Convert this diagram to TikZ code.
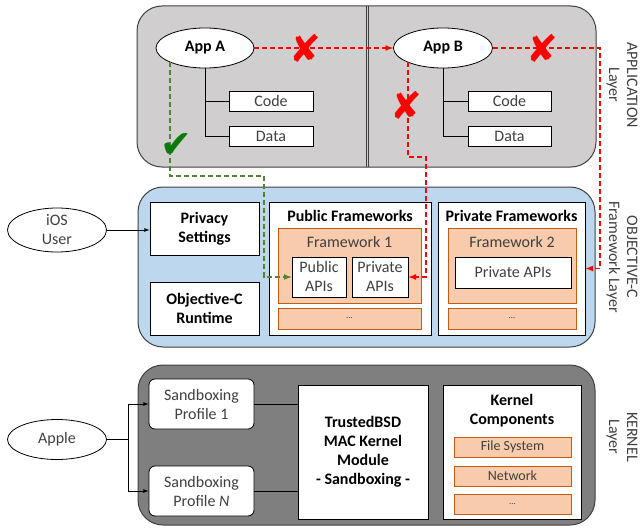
\documentclass[tikz,border=0pt]{standalone}
\usepackage{fontspec}
\setmainfont{Carlito}
\newfontfamily\symfont{DejaVu Sans}
\usepackage{tikz, xcolor}
\usetikzlibrary{shapes,arrows}

\definecolor{appfill}{HTML}{D0CECE}
\definecolor{objcfill}{HTML}{BDD7EE}
\definecolor{kernfill}{HTML}{7F7F7F}
\definecolor{orfill}{HTML}{F8CBAD}
\definecolor{ordraw}{HTML}{C55A11}
\definecolor{txtgray}{HTML}{404040}
\definecolor{dashgreen}{HTML}{548235}
\definecolor{checkgreen}{HTML}{0A7A0A}

\begin{document}
\begin{tikzpicture}[x=1pt, y=-1pt, >=latex, font=\fontsize{16}{19}\selectfont]
\tikzstyle{layer}=[rectangle, rounded corners=25pt, draw=black!75, line width=1pt, inner sep=0pt]
\tikzstyle{vertexr}=[rectangle, draw=black, fill=white, line width=0.8pt, inner sep=0pt, align=center, text=txtgray]
\tikzstyle{vertexb}=[vertexr, text=black, font=\fontsize{16}{19}\selectfont\bfseries]
\tikzstyle{vertexo}=[rectangle, draw=ordraw, fill=orfill, line width=0.8pt, inner sep=0pt, text=txtgray]
\tikzstyle{vertexe}=[ellipse, draw=black, fill=white, line width=0.8pt, inner sep=0pt, align=center, text=txtgray]
\tikzstyle{title}=[inner sep=0pt, align=center, font=\fontsize{16}{19}\selectfont\bfseries]
\tikzstyle{side}=[inner sep=0pt, align=center, rotate=-90, text=txtgray, font=\fontsize{16}{18}\selectfont]
\tikzstyle{drawstyle}=[line width=0.8pt]
\tikzstyle{reddash}=[red, line width=1.6pt, dash pattern=on 5pt off 3pt, ->]
\tikzstyle{greenpath}=[dashgreen, line width=1.6pt, dash pattern=on 5pt off 3pt, ->]
\tikzstyle{nomark}=[inner sep=0pt, text=red, font=\fontsize{38}{38}\selectfont\symfont]

\useasboundingbox (0,0) rectangle (642,527);

% application layer
\node[layer, fill=appfill, minimum width=459pt, minimum height=161pt] (appLayer) at (366.5,86.5) {};
\draw[drawstyle, black!75] (366,6) -- (366,167);
\draw[drawstyle, black!75] (368.5,6) -- (368.5,167);
\node[vertexe, text=black, font=\fontsize{16}{19}\selectfont\bfseries, minimum width=98pt, minimum height=40pt] (appA) at (205,48) {App A};
\node[vertexe, text=black, font=\fontsize{16}{19}\selectfont\bfseries, minimum width=99pt, minimum height=40pt] (appB) at (443,48) {App B};
\node[vertexr, minimum width=84pt, minimum height=20pt] (codeA) at (271,101) {Code};
\node[vertexr, minimum width=84pt, minimum height=20pt] (dataA) at (271,136) {Data};
\node[vertexr, minimum width=83pt, minimum height=20pt] (codeB) at (509.5,101) {Code};
\node[vertexr, minimum width=83pt, minimum height=20pt] (dataB) at (509.5,136) {Data};
\draw[drawstyle] (appA.south) |- (dataA.west);
\draw[drawstyle] (appA.south |- codeA.west) -- (codeA.west);
\draw[drawstyle] (appB.south) |- (dataB.west);
\draw[drawstyle] (appB.south |- codeB.west) -- (codeB.west);
\node[side] (appSide) at (622,85) {APPLICATION\\Layer};

% objective-c framework layer
\node[layer, fill=objcfill, minimum width=457pt, minimum height=160pt] (objcLayer) at (366.5,267) {};
\node[vertexe, minimum width=99pt, minimum height=44pt] (iosUser) at (57,230) {iOS\\User};
\node[vertexb, minimum width=109pt, minimum height=53pt] (privacy) at (204.5,228.5) {Privacy\\Settings};
\node[vertexb, minimum width=109pt, minimum height=53pt] (runtime) at (204.5,308.5) {Objective-C\\Runtime};
\draw[drawstyle, ->] (iosUser.east) -- (privacy.west |- iosUser.east);
\node[vertexr, minimum width=162pt, minimum height=133pt] (pubFw) at (350,268.5) {};
\node[title] (pubFwTitle) at (350,216) {Public Frameworks};
\node[vertexo, minimum width=143pt, minimum height=75pt] (fw1) at (349.5,265.5) {};
\node[inner sep=0pt, text=txtgray] (fw1Title) at (349.5,242.5) {Framework 1};
\node[vertexr, minimum width=54pt, minimum height=40pt] (pubApi) at (319,277) {Public\\APIs};
\node[vertexr, minimum width=56pt, minimum height=40pt] (privApi) at (380,277) {Private\\APIs};
\node[vertexo, minimum width=143pt, minimum height=21pt] (dots1) at (349.5,318.5) {\small\dots};
\node[vertexr, minimum width=147pt, minimum height=133pt] (privFw) at (511.5,268.5) {};
\node[title] (privFwTitle) at (511.5,216) {Private Frameworks};
\node[vertexo, minimum width=128pt, minimum height=75pt] (fw2) at (512,265.5) {};
\node[inner sep=0pt, text=txtgray] (fw2Title) at (512,242.5) {Framework 2};
\node[vertexr, minimum width=116pt, minimum height=31pt] (privApi2) at (513,272.5) {Private APIs};
\node[vertexo, minimum width=128pt, minimum height=21pt] (dots2) at (512,318.5) {\small\dots};
\node[side] (objcSide) at (622,257) {OBJECTIVE-C\\Framework Layer};

% kernel layer
\node[layer, fill=kernfill, minimum width=457pt, minimum height=160pt] (kernLayer) at (366.5,445) {};
\node[vertexe, minimum width=99pt, minimum height=40pt] (apple) at (57,439.5) {Apple};
\node[vertexr, rounded corners=6pt, minimum width=105pt, minimum height=50pt] (prof1) at (201.5,404) {Sandboxing\\Profile 1};
\node[vertexr, rounded corners=6pt, minimum width=105pt, minimum height=50pt] (profN) at (201.5,491) {Sandboxing\\Profile \emph{N}};
\node[vertexb, minimum width=130pt, minimum height=134pt] (trusted) at (363,452) {TrustedBSD\\MAC Kernel\\Module\\- Sandboxing -};
\node[vertexr, minimum width=138pt, minimum height=134pt] (kernComp) at (512,452) {};
\node[title] (kernCompTitle) at (512,411) {Kernel\\Components};
\node[vertexo, minimum width=117pt, minimum height=20pt] (fileSys) at (512.5,447) {\fontsize{14}{16}\selectfont File System};
\node[vertexo, minimum width=117pt, minimum height=20pt] (network) at (512.5,476) {\fontsize{14}{16}\selectfont Network};
\node[vertexo, minimum width=117pt, minimum height=20pt] (dots3) at (512.5,504) {\small\dots};
\coordinate (appleSplit) at (128,439.5);
\draw[drawstyle] (apple.east) -- (appleSplit);
\draw[drawstyle, ->] (appleSplit) |- (prof1.west);
\draw[drawstyle, ->] (appleSplit) |- (profN.west);
\draw[drawstyle] (prof1.east) -- (trusted.west |- prof1.east);
\draw[drawstyle] (profN.east) -- (trusted.west |- profN.east);
\node[side] (kernSide) at (622,437) {KERNEL\\Layer};

% access paths
\coordinate (greenTurn) at (264,176);
\coordinate (redTurn) at (426,157);
\coordinate (rightTurn) at (600,48);
\draw[greenpath] (appA.south west) |- (greenTurn) |- (pubApi.west);
\draw[reddash] (appA.east) -- (appB.west);
\draw[reddash] (appB.south west) |- (redTurn) |- (privApi.east);
\draw[reddash] (appB.east) -- (rightTurn) |- (privFw.east);
\node[nomark] (noAB) at (305,48) {✘};
\node[nomark] (noBpriv) at (406,105) {✘};
\node[nomark] (noBfw) at (542,48) {✘};
\node[nomark, text=checkgreen] (okA) at (176,146) {✔};
\end{tikzpicture}
\end{document}
